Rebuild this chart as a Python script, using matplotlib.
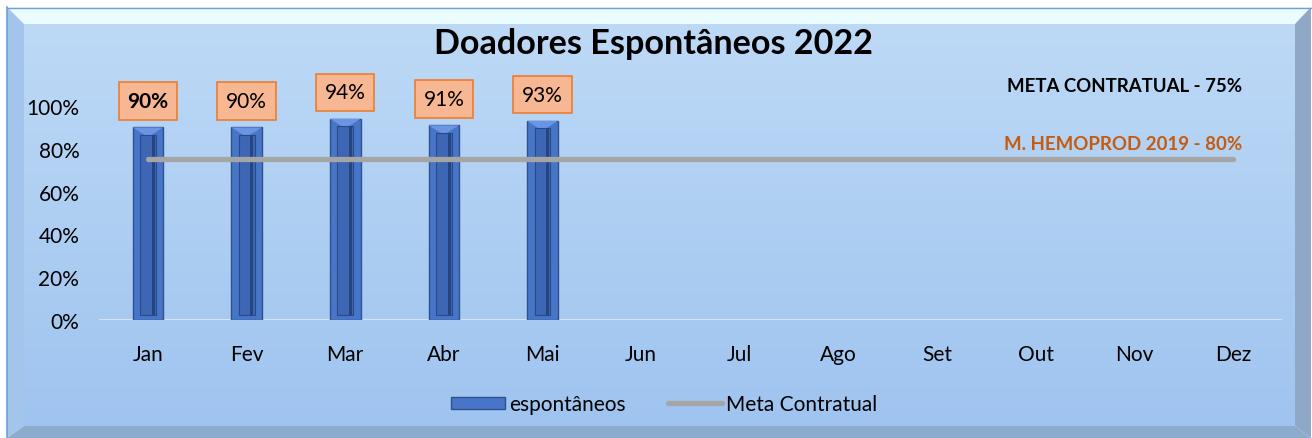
import matplotlib
matplotlib.use('Agg')
import matplotlib.pyplot as plt
import numpy as np
from matplotlib.patches import Polygon, Rectangle
from matplotlib.lines import Line2D

plt.rcParams['font.family'] = ['Lato', 'DejaVu Sans']

months = ['Jan', 'Fev', 'Mar', 'Abr', 'Mai', 'Jun', 'Jul', 'Ago', 'Set', 'Out', 'Nov', 'Dez']
espontaneos = [0.90, 0.90, 0.94, 0.91, 0.93]
meta_contratual = [0.75] * 12
y_ticks = [0, 0.2, 0.4, 0.6, 0.8, 1.0]

W, H = 1312, 439
fig = plt.figure(figsize=(W / 100, H / 100), dpi=100)
fig.patch.set_facecolor('white')


def px(pts):
    # pixel coords (from top-left) -> figure fraction
    return [(x / W, 1 - y / H) for x, y in pts]


# gradient background inside the frame
bg = fig.add_axes([0, 0, 1, 1], zorder=-10)
bg.set_axis_off()
grad = np.linspace(0, 1, 256).reshape(-1, 1)
top_c = np.array([0xbd, 0xd9, 0xf6]) / 255
bot_c = np.array([0x9f, 0xc4, 0xef]) / 255
img = top_c[None, None, :] * (1 - grad[..., None]) + bot_c[None, None, :] * grad[..., None]
bg.imshow(img, extent=(24 / W, 1295 / W, 1 - 427 / H, 1 - 25 / H), aspect='auto',
          transform=fig.transFigure)
bg.set_xlim(0, 1)
bg.set_ylim(0, 1)

# bevelled frame
bevels = [
    ([(7, 8), (1311, 8), (1295, 25), (24, 25)], '#ebfcff'),
    ([(7, 8), (24, 25), (24, 427), (7, 439)], '#a3c5ec'),
    ([(1311, 8), (1295, 25), (1295, 427), (1311, 439)], '#8ea8c6'),
    ([(7, 439), (24, 427), (1295, 427), (1311, 439)], '#8dabcc'),
]
for pts, c in bevels:
    fig.patches.append(Polygon(px(pts), closed=True, facecolor=c, edgecolor='none',
                               transform=fig.transFigure, zorder=-5))
fig.lines.append(Line2D([7 / W, 7 / W], [1 - 8 / H, 0], color='#6f9fd6', lw=1.2,
                        transform=fig.transFigure))
fig.lines.append(Line2D([7 / W, 1311 / W], [1 - 8.5 / H, 1 - 8.5 / H], color='#6f9fd6', lw=1.0,
                        transform=fig.transFigure))

ax = fig.add_axes([98.7 / W, 1 - 321 / H, 1183.4 / W, 239.7 / H])
ax.set_facecolor('none')
x = np.arange(len(months))
xb = x[:len(espontaneos)]

# bevelled bars: outer body, lighter top, darker inner face with shaded right side
bw = 0.31
ax.bar(xb, espontaneos, width=bw, color='#4775c8', edgecolor='#2f528f', lw=1.0, zorder=3)
for xi, v in zip(xb, espontaneos):
    ax.add_patch(Polygon([(xi - bw / 2, v), (xi + bw / 2, v), (xi, v - 0.045)], closed=True,
                         facecolor='#6b95e2', edgecolor='none', zorder=4))
ax.bar(xb, [v - 0.06 for v in espontaneos], bottom=0.025, width=bw * 0.52,
       color='#3d66b4', edgecolor='#2a4a86', lw=0.8, zorder=5)
ax.bar(xb + bw * 0.17, [v - 0.06 for v in espontaneos], bottom=0.025, width=bw * 0.1,
       color='#26457f', edgecolor='none', zorder=6)

ax.plot(x, meta_contratual, color='#a5a5a5', lw=3.8, solid_capstyle='round', zorder=7)
ax.axhline(0, color='#d6e2ee', lw=2.2, zorder=2)

for i, v in enumerate(espontaneos):
    ax.annotate(f'{v * 100:.0f}%', (xb[i], v), xytext=(0, 19), textcoords='offset points',
                ha='center', va='center', fontsize=15,
                fontweight='bold' if i == 0 else 'normal', color='black', zorder=8,
                bbox=dict(boxstyle='square,pad=0.42', facecolor='#f8b793', edgecolor='#ed7d31', lw=1.2))

ax.set_xlim(-0.5, 11.5)
ax.set_ylim(0, 1.12)
ax.set_yticks(y_ticks)
ax.set_yticklabels([f'{t * 100:.0f}%' for t in y_ticks])
ax.set_xticks(x)
ax.set_xticklabels(months)
ax.tick_params(axis='both', length=0, labelsize=15)
ax.tick_params(axis='y', pad=14)
ax.tick_params(axis='x', pad=17)
for s in ax.spines.values():
    s.set_visible(False)

fig.text(654 / W, 1 - 44 / H, 'Doadores Espontâneos 2022', ha='center', va='center',
         fontsize=24.6, fontweight='bold')
fig.text(1242 / W, 1 - 87 / H, 'META CONTRATUAL - 75%', ha='right', va='center',
         fontsize=13.4, fontweight='bold', color='black')
fig.text(1242 / W, 1 - 145 / H, 'M. HEMOPROD 2019 - 80%', ha='right', va='center',
         fontsize=13.4, fontweight='bold', color='#c55a11')

handles = [Rectangle((0, 0), 1, 1, facecolor='#4775c8', edgecolor='#2f528f'),
           Line2D([], [], color='#a5a5a5', lw=3.8, solid_capstyle='round')]
fig.legend(handles, ['espontâneos', 'Meta Contratual'], loc='center', ncol=2,
           bbox_to_anchor=(664 / W, 1 - 405 / H), frameon=False, fontsize=15,
           handlelength=2.6, handleheight=0.5, handletextpad=0.2, columnspacing=2.0)

fig.savefig('out.png', dpi=100)
